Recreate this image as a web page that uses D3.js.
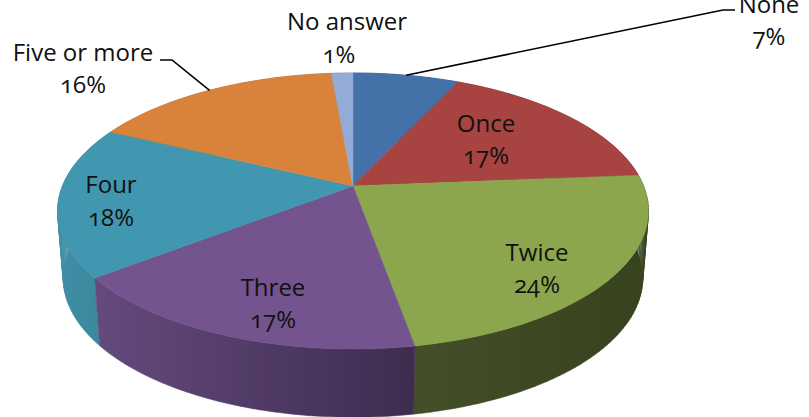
<!DOCTYPE html>
<html>
<head>
<meta charset="utf-8">
<script src="https://cdn.jsdelivr.net/npm/d3@7"></script>
<style>
html,body{margin:0;padding:0;background:#fff;overflow:hidden}
text{font-family:"Open Sans",Lato,sans-serif;font-size:24px;fill:#111;text-anchor:middle;font-variant-numeric:oldstyle-nums;font-feature-settings:"onum"}
</style>
</head>
<body>
<svg id="c" width="809" height="417"></svg>
<script>
const categories = ["None","Once","Twice","Three","Four","Five or more","No answer"];
const values = [6.9,16.8,23.5,17.3,17.7,16.4,1.4];
const percentLabels = ["7%","17%","24%","17%","18%","16%","1%"];
const topColors = ["#4471a7","#a74341","#8ba64d","#73548f","#4297b0","#d9823b","#93abd6"];
const wallLeft = ["#34557e","#7e3230","#434f28","#644a7e","#3f8ea5","#a3622c","#6f81a1"];
const wallRight = ["#34557e","#7e3230","#37421e","#3e2c4f","#38879c","#a3622c","#6f81a1"];
const labelX = [769,486,537,273,111,83,347];
const labelNameY = [13,132,261,296,193,61,30];
const labelPctY = [45,164,293,328,226,93,63];
const pctDx = [0,0,0,0,0,0,-8];

const svg = d3.select("#c");
const defs = svg.append("defs");
const topDisc = {cx:353, cy:186, f:290.6, g:133.5};
const baseDisc = {cx:353, cy:253, f:285, g:134.5};
const k = 0.181;
function proj(disc, a){
  const x = Math.sin(a), z = -Math.cos(a), w = 1 - k*z;
  return [disc.cx + disc.f*x/w, disc.cy + disc.g*z/w];
}
const arcs = d3.pie().sort(null).value(d=>d)(values);
const sample = (a0,a1)=>d3.range(0,61).map(i=>a0+(a1-a0)*i/60);
const line = d3.line();

const order = arcs.map((d,i)=>i).sort((p,q)=>{
  const m = d=>-Math.cos((d.startAngle+d.endAngle)/2);
  return m(arcs[p])-m(arcs[q]);
});

order.forEach(i=>{
  const d = arcs[i];
  const as = sample(d.startAngle,d.endAngle);
  const top = as.map(a=>proj(topDisc,a));
  const bot = as.map(a=>proj(baseDisc,a));
  const quads = d3.pairs(d3.range(as.length)).map(([p,q])=>line([top[p],top[q],bot[q],bot[p]])+"Z").join("");
  const xs = d3.extent(top.concat(bot),p=>p[0]);
  const id = "w"+i;
  const g = defs.append("linearGradient").attr("id",id).attr("gradientUnits","userSpaceOnUse")
    .attr("x1",xs[0]).attr("x2",xs[1]).attr("y1",0).attr("y2",0);
  g.append("stop").attr("offset",0).attr("stop-color",wallLeft[i]);
  g.append("stop").attr("offset",1).attr("stop-color",wallRight[i]);
  svg.append("path").attr("d",quads).attr("fill",`url(#${id})`).attr("stroke",`url(#${id})`).attr("stroke-width",0.5);
});

arcs.forEach((d,i)=>{
  const pts = [[topDisc.cx,topDisc.cy]].concat(sample(d.startAngle,d.endAngle).map(a=>proj(topDisc,a)));
  svg.append("path").attr("d",line(pts)+"Z").attr("fill",topColors[i]).attr("stroke",topColors[i]).attr("stroke-width",0.5);
});

function leader(i, elbow, end){
  const d = arcs[i];
  const s = proj(topDisc,(d.startAngle+d.endAngle)/2);
  svg.append("path").attr("d",line([s,elbow,end])).attr("fill","none").attr("stroke","#000").attr("stroke-width",1.6);
}
const leaderNoneElbow=[723,10], leaderNoneEnd=[735,10];
const leaderFiveElbow=[172,60], leaderFiveEnd=[160,60];
leader(0,leaderNoneElbow,leaderNoneEnd);
leader(5,leaderFiveElbow,leaderFiveEnd);

categories.forEach((c,i)=>{
  svg.append("text").attr("x",labelX[i]).attr("y",labelNameY[i]).text(c);
  svg.append("text").attr("x",labelX[i]+pctDx[i]).attr("y",labelPctY[i]).text(percentLabels[i]);
});
</script>
</body>
</html>
